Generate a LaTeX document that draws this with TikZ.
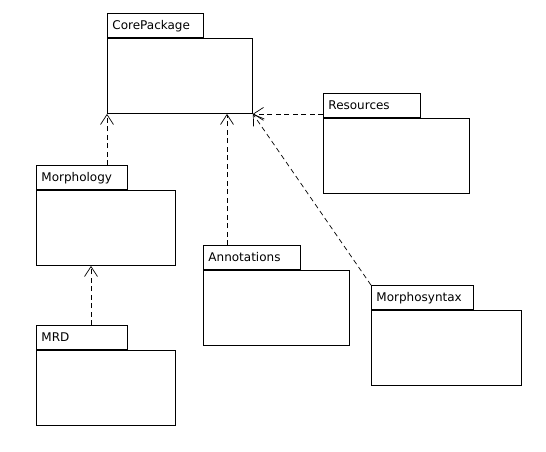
\documentclass[tikz,border=0pt]{standalone}
\usepackage{fontspec}
\setmainfont{DejaVu Sans}
\usetikzlibrary{positioning}
\usetikzlibrary{arrows.meta}

\begin{document}
\begin{tikzpicture}[x=1pt,y=-1pt,node distance=0,
	pkg/.style={draw,line width=0.9pt,anchor=north west,minimum height=75pt,minimum width=#1,inner sep=0pt},
	pkgtab/.style={draw,line width=0.9pt,minimum height=24pt,text width=#1,inner xsep=5pt,align=left,
		text height=9.5pt,text depth=2.5pt,font=\fontsize{12}{14}\selectfont},
	dep/.style={line width=0.7pt,dash pattern=on 5pt off 3.5pt,-{Straight Barb[length=10pt,width=13pt,line width=0.7pt]}}]

	\useasboundingbox (0,0) rectangle (546,451);

	% Place packages
	\node [pkg=145pt] (core) at (107,38) {};
	\node [pkgtab=86pt,above right=0pt of core.north west] (coretab) {CorePackage};

	\node [pkg=146pt] (res) at (323,118) {};
	\node [pkgtab=87pt,above right=0pt of res.north west] (restab) {Resources};

	\node [pkg=139pt] (morph) at (36,190) {};
	\node [pkgtab=81pt,above right=0pt of morph.north west] (morphtab) {Morphology};

	\node [pkg=139pt] (mrd) at (36,350) {};
	\node [pkgtab=81pt,above right=0pt of mrd.north west] (mrdtab) {MRD};

	\node [pkg=146pt] (annot) at (203,270) {};
	\node [pkgtab=87pt,above right=0pt of annot.north west] (annottab) {Annotations};

	\node [pkg=150pt] (msyn) at (371,310) {};
	\node [pkgtab=92pt,above right=0pt of msyn.north west] (msyntab) {Morphosyntax};

	% Dependencies
	\draw [dep] (morphtab.north -| core.south west) -- (core.south west);
	\draw [dep] ([xshift=24pt]annottab.north west) -- ([xshift=24pt]annottab.north west |- core.south);
	\draw [dep] (restab.west |- core.south east) -- (core.south east);
	\draw [dep] (msyntab.north west) -- (core.south east);
	\draw [dep] ([xshift=55pt]mrdtab.north west) -- ([xshift=55pt]mrdtab.north west |- morph.south);

\end{tikzpicture}
\end{document}
